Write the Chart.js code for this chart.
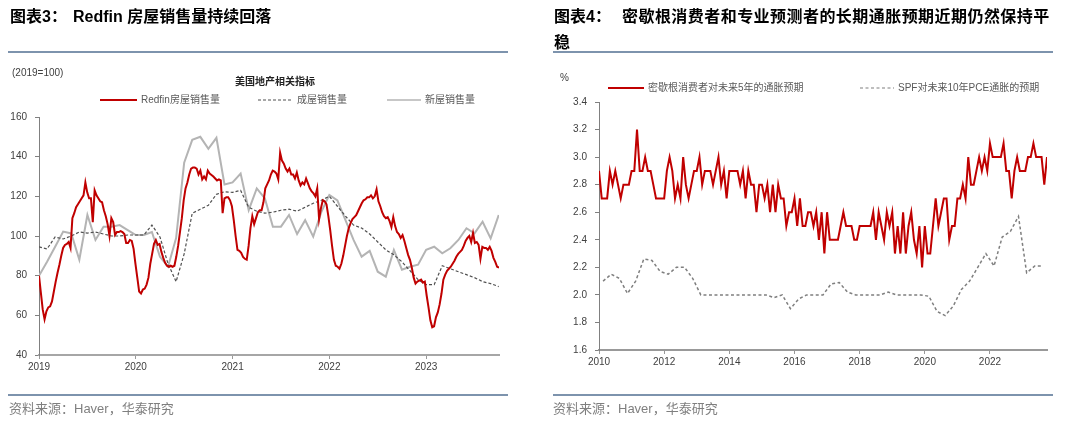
<!DOCTYPE html>
<html><head><meta charset="utf-8">
<script src="https://cdn.jsdelivr.net/npm/chart.js@4.4.0/dist/chart.umd.min.js"></script>
<style>
html,body{margin:0;padding:0;background:#fff;}
body{width:1080px;height:425px;position:relative;overflow:hidden;font-family:"Liberation Sans","Noto Sans CJK SC",sans-serif;}
.t{position:absolute;white-space:nowrap;line-height:1;}
.title{font-family:"Liberation Sans","Noto Sans CJK SC",sans-serif;font-weight:700;font-size:16px;color:#000;}
.rule{position:absolute;height:2px;background:#7d93ad;}
.src{font-family:"Liberation Sans","Noto Sans CJK SC",sans-serif;font-size:13px;color:#7f7f7f;}
.note{font-size:10px;color:#404040;}
canvas{position:absolute;top:0;}
</style></head>
<body>
<canvas id="c1" width="540" height="425" style="left:0px"></canvas>
<canvas id="c2" width="540" height="425" style="left:540px"></canvas>

<div class="t title" style="left:10px;top:9px">图表3：</div>
<div class="t title" style="left:73px;top:9px">Redfin 房屋销售量持续回落</div>
<div class="rule" style="left:8px;top:51px;width:500px"></div>
<div class="t note" style="left:12px;top:68px">(2019=100)</div>
<div class="rule" style="left:8px;top:394px;width:500px"></div>
<div class="t src" style="left:9px;top:402px">资料来源：Haver，华泰研究</div>

<div class="t title" style="left:554px;top:9px">图表4：</div>
<div class="t title" style="left:622px;top:9px;letter-spacing:0.45px">密歇根消费者和专业预测者的长期通胀预期近期仍然保持平</div>
<div class="t title" style="left:554px;top:35px">稳</div>
<div class="rule" style="left:553px;top:51px;width:500px"></div>
<div class="t note" style="left:560px;top:73px">%</div>
<div class="rule" style="left:553px;top:394px;width:500px"></div>
<div class="t src" style="left:553px;top:402px">资料来源：Haver，华泰研究</div>

<script>
// ---------------- Chart 3 data (2019 = 100) ----------------
const redfinStartYear = 2019;          // weekly series, first week of 2019
const redfinSales = [
  80, 71.5, 63, 58, 62, 64, 64.5, 67, 72, 77,
  81.5, 85.5, 90, 94, 95.5, 96, 97, 94, 109, 111.5,
  114.5, 116, 117.5, 119, 120.5, 127, 122, 119, 119, 107,
  123, 120.5, 119, 117.5, 117, 113, 110, 106, 100, 109,
  107, 100.5, 102, 102, 102.5, 102, 101, 96.5, 96.5, 98,
  97.5, 93.5, 86, 79, 72, 71, 73, 73.5, 75.5, 79,
  86, 91, 96, 98, 95.5, 96, 92, 89, 86.5, 85,
  84.5, 85, 84.5, 85, 89.5, 95, 102, 109, 118, 124,
  127, 131, 134, 134.5, 134.5, 134, 131, 133, 128.5, 130,
  128.5, 133, 131.5, 130.8, 130, 129, 128, 128.5, 128, 111.5,
  119, 119.5, 119.5, 118, 115, 108, 100, 93, 92.5, 91.5,
  89.5, 88.5, 88, 95, 104, 110, 106, 109, 112, 113,
  113, 117, 124, 126, 128, 131, 133, 132.5, 131.5, 128.5,
  142, 138, 136.5, 134, 132.5, 134, 131, 131, 129, 132,
  128, 125.5, 127, 126, 129, 126.5, 124, 122.5, 121.5, 120,
  124, 108.5, 114, 118, 117.5, 116, 110, 103, 95, 88,
  85, 84.5, 83.5, 86, 90, 95, 100, 104, 106.5, 108.5,
  109.5, 110.5, 112.5, 114.5, 116.5, 118, 118.5, 119.5, 119.5, 120.5,
  119, 120, 123.5, 117.5, 115, 112, 110, 109, 109.5, 107.5,
  104.5, 109.5, 105, 102, 101, 99, 100.5, 97.5, 94, 90.5,
  88, 84, 79, 76, 77, 77.5, 78, 76.5, 77, 70,
  64, 57.5, 54, 54.5, 59, 61.5, 65.5, 71, 78, 80.5,
  82.5, 83.5, 84.5, 86, 87.5, 89.5, 91, 92, 93, 95,
  97.5, 99, 100, 97, 101.5, 96.5, 97, 95.5, 88.5, 94.5,
  94, 94, 93, 94.5, 92.5, 89, 87, 84.5, 84
];
const homeStartYear = 2019;            // monthly series
const existingHomeSales = [
  94.5, 93.5, 99.5, 98.5, 100, 102, 101.5, 102, 101, 100,
  100, 100.5, 100.5, 100.5, 105.5, 99.5, 86, 77, 91, 111.5,
  113.5, 115.5, 121, 122.3, 122, 123, 114.5, 112.5, 111.5, 112,
  113, 113.5, 112.5, 114.5, 116.5, 118, 120, 115, 110, 105.5,
  104, 101, 97, 93, 90.5, 87, 82.5, 78, 75.5, 75.5,
  85, 83.5, 82, 80.5, 79, 77, 76, 74.5
];
const newHomeSales = [
  80, 87, 94.6, 102.2, 101.3, 88, 110.6, 98, 104.7, 104.7,
  105.5, 103, 100.5, 100.5, 102, 89.5, 84.5, 99, 137, 148.5,
  150, 144, 149.5, 126, 127, 131.5, 113, 124, 119, 104.7,
  104.7, 110.6, 101, 108, 99.7, 112, 120.7, 118, 108, 98,
  89.6, 92.5, 82, 79.5, 93, 83, 84.5, 85.5, 93, 94.6,
  91.3, 93.8, 98, 103.9, 101.3, 107.2, 98.8, 110.6
];
const chart3Labels = ['Redfin房屋销售量', '成屋销售量', '新屋销售量'];
const chart3YTicks = [40, 60, 80, 100, 120, 140, 160];

// ---------------- Chart 4 data (%) ----------------
const michiganStartYear = 2010;        // monthly, Jan 2010 – Oct 2023
const michigan5y = [
  2.9, 2.7, 2.7, 2.7, 2.9, 2.8, 2.9, 2.8, 2.7, 2.8,
  2.8, 2.8, 2.9, 2.9, 3.2, 2.9, 2.9, 3.0, 2.9, 2.9,
  2.8, 2.7, 2.7, 2.7, 2.7, 2.9, 3.0, 2.9, 2.7, 2.8,
  2.7, 3.0, 2.8, 2.7, 2.8, 2.9, 2.9, 3.0, 2.8, 2.9,
  2.9, 2.9, 2.8, 2.9, 3.0, 2.8, 2.9, 2.7, 2.9, 2.9,
  2.9, 2.9, 2.8, 2.9, 2.7, 2.9, 2.8, 2.8, 2.6, 2.8,
  2.8, 2.7, 2.8, 2.6, 2.8, 2.6, 2.8, 2.7, 2.7, 2.5,
  2.6, 2.6, 2.7, 2.5, 2.7, 2.5, 2.5, 2.6, 2.6, 2.5,
  2.6, 2.4, 2.6, 2.3, 2.6, 2.4, 2.4, 2.4, 2.4, 2.5,
  2.6, 2.5, 2.5, 2.5, 2.4, 2.4, 2.5, 2.5, 2.5, 2.5,
  2.5, 2.6, 2.4, 2.6, 2.5, 2.4, 2.6, 2.5, 2.6, 2.3,
  2.5, 2.3, 2.6, 2.3, 2.5, 2.6, 2.4, 2.3, 2.5, 2.2,
  2.5, 2.3, 2.3, 2.5, 2.7, 2.5, 2.6, 2.7, 2.7, 2.4,
  2.5, 2.5, 2.7, 2.7, 2.8, 2.7, 3.0, 2.8, 2.8, 2.9,
  3.0, 2.9, 3.0, 2.9, 3.1, 3.0, 3.0, 3.0, 3.0, 3.1,
  2.9, 2.9, 2.7, 2.9, 3.0, 2.9, 2.9, 2.9, 3.0, 3.0,
  3.1, 3.0, 3.0, 3.0, 2.8, 3.0
];
const spfStartYear = 2010.125;         // quarterly survey, Q1 2010 – Q3 2023
const spf10yPCE = [
  2.10, 2.15, 2.12, 2.01, 2.10, 2.26, 2.25, 2.17, 2.15, 2.20,
  2.20, 2.12, 2.00, 2.00, 2.00, 2.00, 2.00, 2.00, 2.00, 2.00,
  2.00, 1.98, 2.00, 1.90, 1.97, 2.00, 2.00, 2.00, 2.08, 2.09,
  2.02, 2.00, 2.00, 2.00, 2.00, 2.02, 2.00, 2.00, 2.00, 2.00,
  1.99, 1.88, 1.85, 1.92, 2.04, 2.10, 2.20, 2.30, 2.21, 2.42,
  2.46, 2.57, 2.16, 2.21, 2.21
];
const chart4Labels = ['密歇根消费者对未来5年的通胀预期', 'SPF对未来10年PCE通胀的预期'];

// ---------------- helpers ----------------
const weekly = (arr, start) => arr.map((v, i) => ({ x: start + i * 7 / 365.25, y: v }));
const monthly = (arr, start) => arr.map((v, i) => ({ x: start + i / 12, y: v }));
const quarterly = (arr, start) => arr.map((v, i) => ({ x: start + i / 4, y: v }));

const tickFont = { family: '"Liberation Sans", Arial, sans-serif', size: 10 };
const tickColor = '#404040';

function makeLegend(cfg) {
  return {
    id: 'fixedLegend',
    afterDraw(chart) {
      const ctx = chart.ctx;
      ctx.save();
      if (cfg.title) {
        ctx.font = cfg.title.font;
        ctx.fillStyle = cfg.title.color;
        ctx.textAlign = 'center';
        ctx.textBaseline = 'middle';
        ctx.fillText(cfg.title.text, cfg.title.x, cfg.title.y);
      }
      cfg.items.forEach(it => {
        const ds = chart.data.datasets[it.dataset];
        ctx.beginPath();
        ctx.strokeStyle = ds.borderColor;
        ctx.lineWidth = it.lineWidth;
        ctx.setLineDash(ds.borderDash || []);
        ctx.moveTo(it.x, it.y);
        ctx.lineTo(it.x + it.len, it.y);
        ctx.stroke();
        ctx.setLineDash([]);
        ctx.font = cfg.font;
        ctx.fillStyle = cfg.color;
        ctx.textAlign = 'left';
        ctx.textBaseline = 'middle';
        ctx.fillText(ds.label, it.x + it.len + 4, it.y);
      });
      ctx.restore();
    }
  };
}

// ---------------- Chart 3 ----------------
const redfinEnd = redfinStartYear + (redfinSales.length - 1) * 7 / 365.25;
new Chart(document.getElementById('c1'), {
  type: 'line',
  data: {
    datasets: [
      { label: chart3Labels[0], data: weekly(redfinSales, redfinStartYear), borderColor: '#c00000', borderWidth: 2, pointRadius: 0, tension: 0 },
      { label: chart3Labels[1], data: monthly(existingHomeSales, homeStartYear), borderColor: '#505050', borderWidth: 1.2, borderDash: [3, 2], pointRadius: 0, tension: 0 },
      { label: chart3Labels[2], data: monthly(newHomeSales, homeStartYear), borderColor: '#b4b4b4', borderWidth: 2, pointRadius: 0, tension: 0 }
    ]
  },
  options: {
    responsive: false, animation: false, devicePixelRatio: 1,
    layout: { padding: { left: 0, right: 41, top: 117, bottom: 50 } },
    plugins: { legend: { display: false }, title: { display: false }, tooltip: { enabled: false } },
    scales: {
      x: {
        type: 'linear', min: redfinStartYear, max: redfinEnd,
        ticks: { stepSize: 1, includeBounds: false, autoSkip: false, maxRotation: 0, padding: 2, font: tickFont, color: tickColor, callback: v => String(v) },
        grid: { display: true, drawOnChartArea: false, drawTicks: true, tickLength: 4, color: '#999999' },
        border: { display: true, color: '#a6a6a6', width: 2 },
        afterFit: s => { s.height = 20; }
      },
      y: {
        min: chart3YTicks[0], max: chart3YTicks[chart3YTicks.length - 1],
        ticks: { stepSize: 20, padding: 8, font: tickFont, color: tickColor },
        grid: { display: true, drawOnChartArea: false, drawTicks: true, tickLength: 4, color: '#808080' },
        border: { display: true, color: '#808080', width: 1 },
        afterFit: s => { s.width = 39; }
      }
    }
  },
  plugins: [makeLegend({
    font: '10px "Liberation Sans", "Noto Sans CJK SC", sans-serif', color: '#595959',
    title: { text: '美国地产相关指标', x: 275, y: 81, font: 'bold 10px "Noto Sans CJK SC", sans-serif', color: '#222' },
    items: [
      { dataset: 0, x: 100, y: 100, len: 37, lineWidth: 2 },
      { dataset: 1, x: 258, y: 100, len: 35, lineWidth: 1.2 },
      { dataset: 2, x: 387, y: 100, len: 34, lineWidth: 1.5 }
    ]
  })]
});

// ---------------- Chart 4 ----------------
const michiganEnd = michiganStartYear + (michigan5y.length - 1) / 12;
new Chart(document.getElementById('c2'), {
  type: 'line',
  data: {
    datasets: [
      { label: chart4Labels[0], data: monthly(michigan5y, michiganStartYear), borderColor: '#c00000', borderWidth: 2, pointRadius: 0, tension: 0 },
      { label: chart4Labels[1], data: quarterly(spf10yPCE, spfStartYear), borderColor: '#7f7f7f', borderWidth: 1.5, borderDash: [3, 2.5], pointRadius: 0, tension: 0 }
    ]
  },
  options: {
    responsive: false, animation: false, devicePixelRatio: 1,
    layout: { padding: { left: 0, right: 33, top: 102, bottom: 55 } },
    plugins: { legend: { display: false }, title: { display: false }, tooltip: { enabled: false } },
    scales: {
      x: {
        type: 'linear', min: michiganStartYear, max: michiganEnd,
        ticks: { stepSize: 2, includeBounds: false, autoSkip: false, maxRotation: 0, padding: 2, font: tickFont, color: tickColor, callback: v => String(v) },
        grid: { display: true, drawOnChartArea: false, drawTicks: true, tickLength: 4, color: '#999999' },
        border: { display: true, color: '#999999', width: 2 },
        afterFit: s => { s.height = 20; }
      },
      y: {
        min: 1.6, max: 3.4,
        ticks: { stepSize: 0.2, padding: 8, font: tickFont, color: tickColor, callback: v => Number(v).toFixed(1) },
        grid: { display: true, drawOnChartArea: false, drawTicks: true, tickLength: 4, color: '#808080' },
        border: { display: true, color: '#808080', width: 1 },
        afterFit: s => { s.width = 59; }
      }
    }
  },
  plugins: [makeLegend({
    font: '10px "Liberation Sans", "Noto Sans CJK SC", sans-serif', color: '#595959',
    items: [
      { dataset: 0, x: 68, y: 88, len: 36, lineWidth: 2 },
      { dataset: 1, x: 320, y: 88, len: 34, lineWidth: 1.2 }
    ]
  })]
});
</script>
</body></html>
